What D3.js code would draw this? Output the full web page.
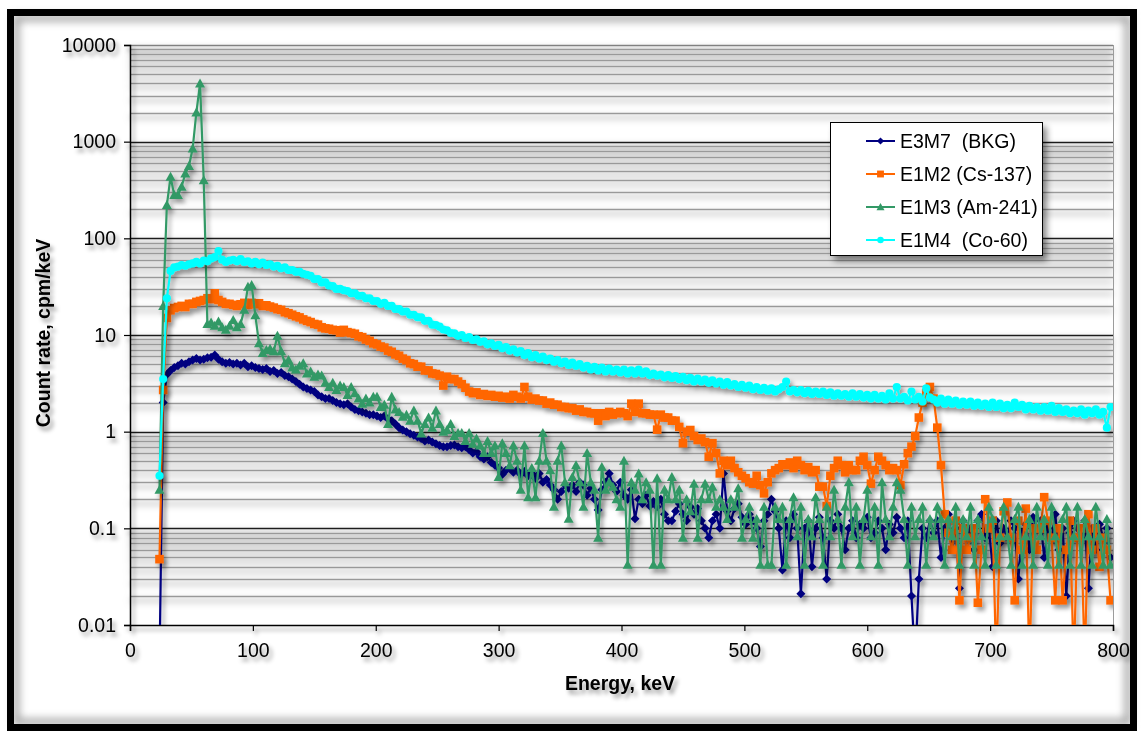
<!DOCTYPE html>
<html><head><meta charset="utf-8">
<script src="https://cdn.jsdelivr.net/npm/d3@7"></script>
<style>
html,body{margin:0;padding:0;background:#fff;}
svg{display:block;font-family:"Liberation Sans",Arial,sans-serif;}
.legend text{white-space:pre;}
</style></head><body>
<svg id="chart" width="1142" height="731"></svg>
<script>
// Channel grid: energies (keV) of the spectrum bins
const energyStart = 24, energyStep = 3, energyEnd = 798;
const energy = d3.range(energyStart, energyEnd + 1, energyStep);

// Count rates (cpm/keV) per bin; very small values stand for empty bins
const bkgE3M7 = [
  0.004, 2.0, 3.9, 4.3, 4.6, 4.8, 5.1, 5.0, 5.3, 5.5,
  5.7, 5.5, 5.6, 5.8, 5.9, 6.2, 5.6, 5.3, 5.1, 5.2,
  5.0, 5.1, 4.9, 5.1, 4.7, 4.8, 4.6, 4.5, 4.4, 4.5,
  4.2, 4.3, 4.0, 4.1, 3.8, 3.7, 3.5, 3.3, 3.1, 2.9,
  2.8, 2.7, 2.6, 2.4, 2.3, 2.2, 2.2, 2.1, 2.0, 1.95,
  1.9, 1.95, 1.8, 1.7, 1.65, 1.6, 1.55, 1.5, 1.5, 1.45,
  1.4, 1.45, 1.35, 1.3, 1.2, 1.1, 1.04, 1.0, 0.95, 0.92,
  0.88, 0.85, 0.8, 0.82, 0.78, 0.75, 0.72, 0.7, 0.7, 0.72,
  0.73, 0.7, 0.68, 0.7, 0.65, 0.6, 0.62, 0.55, 0.52, 0.55,
  0.48, 0.45, 0.42, 0.36, 0.4, 0.42, 0.38, 0.4, 0.36, 0.39,
  0.35, 0.37, 0.33, 0.37, 0.3, 0.32, 0.28, 0.25, 0.2, 0.24,
  0.28, 0.26, 0.28, 0.24, 0.3, 0.28, 0.22, 0.26, 0.2, 0.155,
  0.25, 0.3, 0.37, 0.28, 0.24, 0.3, 0.22, 0.2, 0.25, 0.126,
  0.2, 0.18, 0.22, 0.17, 0.19, 0.167, 0.2, 0.14, 0.12, 0.12,
  0.15, 0.18, 0.14, 0.12, 0.167, 0.14, 0.16, 0.12, 0.1, 0.08,
  0.12, 0.14, 0.1, 0.37, 0.15, 0.12, 0.16, 0.18, 0.13, 0.11,
  0.14, 0.12, 0.1, 0.065, 0.12, 0.14, 0.2, 0.15, 0.1, 0.037,
  0.12, 0.08, 0.14, 0.1, 0.021, 0.1, 0.12, 0.04, 0.1, 0.13,
  0.08, 0.03, 0.12, 0.1, 0.14, 0.1, 0.06, 0.1, 0.12, 0.08,
  0.11, 0.1, 0.13, 0.08, 0.09, 0.12, 0.1, 0.06, 0.11, 0.09,
  0.13, 0.1, 0.08, 0.12, 0.02, 0.004, 0.03, 0.1, 0.08, 0.12,
  0.09, 0.12, 0.05, 0.1, 0.14, 0.06, 0.1, 0.024, 0.12, 0.08,
  0.1, 0.06, 0.12, 0.14, 0.08, 0.1, 0.04, 0.12, 0.07, 0.1,
  0.08, 0.12, 0.1, 0.03, 0.09, 0.11, 0.06, 0.13, 0.1, 0.12,
  0.05, 0.1, 0.08, 0.14, 0.06, 0.1, 0.02, 0.09, 0.12, 0.1,
  0.08, 0.12, 0.024, 0.1, 0.06, 0.11, 0.08, 0.1, 0.05
];
const cs137E1M2 = [
  0.048, 2.7, 15, 18, 19, 19.5, 20, 19.5, 21, 21,
  22, 22.5, 23, 24, 23.5, 27, 23, 22, 21, 21,
  20.5, 20, 20.8, 21.5, 20.5, 21.5, 20.8, 21.3, 20, 20.3,
  19.7, 19.2, 18.5, 18.2, 17.2, 16.8, 16.2, 15.6, 15.2, 14.5,
  14, 13.6, 13, 12.8, 12, 11.7, 11.6, 11.3, 11.2, 10.6,
  11.3, 10.7, 10.5, 10.3, 9.7, 9.5, 9.0, 8.7, 8.2, 8.0,
  7.6, 7.4, 6.9, 6.7, 6.3, 6.1, 5.7, 5.5, 5.1, 5.0,
  4.7, 4.7, 4.3, 4.3, 4.0, 3.95, 3.8, 3.0, 3.7, 3.5,
  3.5, 3.3, 3.1, 2.85, 2.6, 2.5, 2.55, 2.4, 2.45, 2.35,
  2.4, 2.3, 2.35, 2.25, 2.3, 2.2, 2.4, 2.3, 2.2, 2.9,
  2.3, 2.15, 2.2, 2.1, 2.1, 1.95, 2.0, 1.9, 1.9, 1.8,
  1.8, 1.75, 1.75, 1.65, 1.7, 1.6, 1.6, 1.55, 1.55, 1.3,
  1.55, 1.45, 1.6, 1.5, 1.55, 1.6, 1.55, 1.45, 1.95, 1.6,
  1.95, 1.55, 1.55, 1.5, 1.5, 1.05, 1.5, 1.4, 1.4, 1.3,
  1.3, 1.12, 0.76, 1.0, 1.04, 0.9, 0.82, 0.85, 0.78, 0.55,
  0.76, 0.6, 0.37, 0.5, 0.45, 0.5, 0.42, 0.38, 0.35, 0.33,
  0.3, 0.29, 0.35, 0.28, 0.23, 0.3, 0.37, 0.4, 0.42, 0.46,
  0.45, 0.48, 0.42, 0.5, 0.45, 0.4, 0.43, 0.38, 0.4, 0.27,
  0.27, 0.17, 0.35, 0.42, 0.5, 0.45, 0.38, 0.45, 0.4, 0.4,
  0.5, 0.55, 0.45, 0.29, 0.4, 0.55, 0.5, 0.45, 0.4, 0.42,
  0.4, 0.28, 0.46, 0.6, 0.7, 0.9, 1.4, 2.0, 2.5, 2.9,
  2.2, 1.1, 0.45, 0.14, 0.09, 0.06, 0.12, 0.018, 0.1, 0.06,
  0.08, 0.1, 0.017, 0.06, 0.2, 0.1, 0.12, 0.004, 0.08, 0.15,
  0.185, 0.08, 0.018, 0.12, 0.06, 0.16, 0.004, 0.1, 0.06, 0.1,
  0.21, 0.12, 0.08, 0.018, 0.1, 0.018, 0.06, 0.12, 0.004, 0.08,
  0.1, 0.004, 0.14, 0.06, 0.1, 0.04, 0.08, 0.06, 0.018
];
const am241E1M3 = [
  0.25, 20, 221, 434, 280, 280, 342, 468, 560, 850,
  2000, 4000, 400, 13, 13.5, 12.5, 13.8, 12, 11.3, 12.5,
  14.3, 12, 13, 18.3, 31.5, 33, 16, 8.2, 6.5, 7.0,
  7.2, 6.8, 9.8, 6.8, 5.1, 5.5, 4.6, 4.4, 4.8, 5.1,
  4.0, 4.2, 3.7, 3.9, 3.8, 3.2, 2.9, 3.2, 2.7, 3.0,
  2.9, 2.4, 2.9, 2.5, 2.2, 1.95, 2.2, 2.0, 2.3, 2.3,
  1.8, 1.9, 1.2, 2.3, 1.7, 1.6, 1.43, 1.5, 1.3, 1.66,
  1.3, 0.96, 1.2, 1.4, 1.1, 1.66, 1.2, 1.0, 1.04, 1.2,
  0.9, 0.97, 0.97, 0.8, 0.97, 0.75, 0.85, 0.72, 0.6, 0.8,
  0.6, 0.72, 0.34, 0.76, 0.6, 0.45, 0.72, 0.5, 0.25, 0.72,
  0.21, 0.42, 0.21, 0.5, 0.97, 0.5, 0.4, 0.167, 0.5, 0.72,
  0.3, 0.126, 0.34, 0.45, 0.3, 0.167, 0.6, 0.3, 0.25, 0.08,
  0.43, 0.25, 0.3, 0.27, 0.2, 0.167, 0.5, 0.042, 0.3, 0.25,
  0.37, 0.2, 0.3, 0.25, 0.042, 0.33, 0.042, 0.25, 0.2, 0.34,
  0.2, 0.25, 0.08, 0.2, 0.15, 0.29, 0.08, 0.2, 0.29, 0.2,
  0.27, 0.167, 0.2, 0.167, 0.125, 0.2, 0.167, 0.26, 0.08, 0.125,
  0.167, 0.08, 0.125, 0.042, 0.167, 0.042, 0.042, 0.167, 0.125, 0.167,
  0.042, 0.125, 0.21, 0.083, 0.167, 0.042, 0.125, 0.083, 0.21, 0.125,
  0.042, 0.167, 0.083, 0.25, 0.125, 0.042, 0.167, 0.3, 0.083, 0.167,
  0.042, 0.125, 0.25, 0.083, 0.167, 0.042, 0.3, 0.125, 0.083, 0.167,
  0.3, 0.25, 0.125, 0.042, 0.167, 0.083, 0.125, 0.167, 0.042, 0.125,
  0.083, 0.167, 0.125, 0.042, 0.125, 0.083, 0.167, 0.042, 0.125, 0.083,
  0.167, 0.042, 0.125, 0.083, 0.042, 0.167, 0.125, 0.042, 0.083, 0.167,
  0.083, 0.042, 0.125, 0.167, 0.042, 0.083, 0.125, 0.042, 0.167, 0.083,
  0.125, 0.042, 0.167, 0.083, 0.042, 0.125, 0.167, 0.042, 0.083, 0.167,
  0.042, 0.125, 0.083, 0.042, 0.167, 0.083, 0.042, 0.125, 0.042
];
const co60E1M4 = [
  0.35, 3.5, 24, 46, 50, 51, 53, 52, 54, 55,
  57, 55, 59, 58, 62, 64, 74, 60, 57, 59,
  60, 58, 61, 57, 58, 55, 57, 54, 56, 53,
  54, 51, 52, 49, 50, 47, 47, 45, 45, 43,
  42, 41, 38, 38, 35, 35, 32.5, 32, 30, 30,
  29, 28.5, 27, 27, 25.5, 25.5, 24, 24, 22.5, 22.5,
  21, 21.5, 20, 20, 18.6, 18.5, 17.5, 17.5, 16.2, 16.2,
  15.3, 15.2, 14, 14, 12.8, 12.7, 12.2, 11.4, 11.2, 10.5,
  10.4, 9.8, 10, 9.3, 9.5, 8.9, 9.0, 8.5, 8.6, 8.0,
  8.2, 7.7, 7.9, 7.3, 7.5, 6.9, 7.1, 6.6, 6.8, 6.2,
  6.5, 5.9, 6.2, 5.7, 6.0, 5.5, 5.7, 5.3, 5.5, 5.1,
  5.3, 4.9, 5.2, 4.8, 5.0, 4.6, 4.8, 4.4, 4.7, 4.3,
  4.6, 4.2, 4.5, 4.2, 4.4, 4.1, 4.4, 4.0, 4.3, 4.0,
  4.4, 4.0, 4.2, 3.85, 4.0, 3.8, 3.9, 3.65, 3.85, 3.6,
  3.75, 3.5, 3.7, 3.4, 3.6, 3.3, 3.55, 3.3, 3.45, 3.2,
  3.4, 3.15, 3.3, 3.05, 3.25, 3.0, 3.1, 2.9, 3.05, 2.85,
  3.0, 2.75, 2.9, 2.7, 2.85, 2.65, 2.8, 2.6, 2.75, 2.9,
  3.3, 2.6, 2.7, 2.55, 2.7, 2.5, 2.65, 2.45, 2.6, 2.45,
  2.6, 2.4, 2.55, 2.35, 2.5, 2.35, 2.45, 2.3, 2.5, 2.3,
  2.45, 2.25, 2.4, 2.2, 2.4, 2.2, 2.35, 2.15, 2.5, 2.2,
  2.9, 2.2, 2.3, 2.1, 2.6, 2.15, 2.3, 2.05, 2.8, 2.25,
  2.15, 2.0, 2.2, 1.95, 2.15, 1.95, 2.1, 1.9, 2.05, 1.9,
  2.05, 1.85, 2.0, 1.85, 1.95, 1.8, 2.0, 1.8, 1.95, 1.75,
  1.9, 1.75, 2.0, 1.8, 1.9, 1.7, 1.85, 1.7, 1.8, 1.65,
  1.8, 1.65, 1.85, 1.6, 1.75, 1.6, 1.7, 1.55, 1.65, 1.55,
  1.7, 1.5, 1.65, 1.55, 1.7, 1.5, 1.6, 1.1, 1.8
];

const seriesNames = ["E3M7  (BKG)", "E1M2 (Cs-137)", "E1M3 (Am-241)", "E1M4  (Co-60)"];
const seriesValues = [bkgE3M7, cs137E1M2, am241E1M3, co60E1M4];
const seriesColors = ["#000080", "#FF6600", "#339966", "#00FFFF"];
const seriesMarkers = ["diamond", "square", "triangle", "circle"];

const yTickValues = [0.01, 0.1, 1, 10, 100, 1000, 10000];
const yTickLabels = ["0.01", "0.1", "1", "10", "100", "1000", "10000"];
const xTickValues = [0, 100, 200, 300, 400, 500, 600, 700, 800];

const xTitle = "Energy, keV";
const yTitle = "Count rate, cpm/keV";

// ---- layout ----
const W = 1142, H = 731;
const plot = {left: 130, right: 1113, top: 45, bottom: 625};
const fontSize = 19.5;

const svg = d3.select("#chart");
const defs = svg.append("defs");

function shadow(id, dx, dy, sd, op) {
  const f = defs.append("filter").attr("id", id)
    .attr("x", "-20%").attr("y", "-20%").attr("width", "140%").attr("height", "140%");
  f.append("feDropShadow").attr("dx", dx).attr("dy", dy)
    .attr("stdDeviation", sd).attr("flood-color", "#000").attr("flood-opacity", op);
}
shadow("gridShadow", 0, 4, 3.5, 0.55);
shadow("lineShadow", 3, 4, 2, 0.35);
shadow("textShadow", 3, 4, 2, 0.4);
shadow("boxShadow", 4, 5, 3, 0.45);

defs.append("clipPath").attr("id", "plotClip").append("rect")
  .attr("x", plot.left).attr("y", plot.top - 10)
  .attr("width", plot.right - plot.left).attr("height", plot.bottom - plot.top + 10);

// page background and frame
svg.append("rect").attr("width", W).attr("height", H).attr("fill", "#fff");
const inner = {x: 14, y: 16, w: 1116, h: 708};
const frameBlur = defs.append("filter").attr("id", "frameBlur");
frameBlur.append("feGaussianBlur").attr("stdDeviation", 4);
svg.append("rect").attr("x", inner.x + 2).attr("y", inner.y + 2)
  .attr("width", inner.w - 4).attr("height", inner.h - 4)
  .attr("fill", "none").attr("stroke", "#9a9a9a").attr("stroke-width", 6)
  .attr("filter", "url(#frameBlur)");
svg.append("rect").attr("x", inner.x - 3.5).attr("y", inner.y - 3.5)
  .attr("width", inner.w + 7).attr("height", inner.h + 7)
  .attr("fill", "none").attr("stroke", "#000").attr("stroke-width", 7);

// scales
const x = d3.scaleLinear().domain([0, 800]).range([plot.left, plot.right]);
const y = d3.scaleLog().domain([0.01, 10000]).range([plot.bottom, plot.top]);

// gridlines
const minorVals = [];
const majorVals = [];
for (let k = -2; k < 4; k++) {
  const d = Math.pow(10, k);
  for (let m = 2; m <= 9; m++) minorVals.push(m * d);
  majorVals.push(d * 10);
}
const grid = svg.append("g").attr("filter", "url(#gridShadow)");
grid.selectAll("line.minor").data(minorVals).join("line").attr("class", "minor")
  .attr("x1", plot.left).attr("x2", plot.right)
  .attr("y1", d => Math.round(y(d)) + 0.5).attr("y2", d => Math.round(y(d)) + 0.5)
  .attr("stroke", "#999").attr("stroke-width", 1.3);
grid.selectAll("line.major").data(majorVals).join("line").attr("class", "major")
  .attr("x1", plot.left).attr("x2", plot.right)
  .attr("y1", d => Math.round(y(d)) + 0.5).attr("y2", d => Math.round(y(d)) + 0.5)
  .attr("stroke", d => d === 10000 ? "#808080" : "#1a1a1a").attr("stroke-width", 1.3);
// right edge of plot area
svg.append("line").attr("x1", plot.right + 0.5).attr("x2", plot.right + 0.5)
  .attr("y1", plot.top).attr("y2", plot.bottom).attr("stroke", "#9c9c9c");

// axes
const axisG = svg.append("g").attr("filter", "url(#textShadow)");
const yAxis = axisG.append("g").attr("transform", `translate(${plot.left},0)`)
  .call(d3.axisLeft(y).tickValues(yTickValues).tickFormat((d, i) => yTickLabels[i])
    .tickSize(6).tickPadding(8));
const xAxis = axisG.append("g").attr("transform", `translate(0,${plot.bottom})`)
  .call(d3.axisBottom(x).tickValues(xTickValues).tickFormat(d3.format("d"))
    .tickSize(6).tickPadding(12));
[yAxis, xAxis].forEach(a => {
  a.select(".domain").attr("stroke", "#000").attr("stroke-width", 1.5);
  a.selectAll(".tick line").attr("stroke", "#000").attr("stroke-width", 1.2);
  a.selectAll(".tick text").attr("fill", "#000").attr("font-size", fontSize)
    .attr("font-family", "'Liberation Sans', Arial, sans-serif");
});

axisG.append("text").attr("x", 620).attr("y", 690).attr("text-anchor", "middle")
  .attr("font-size", fontSize).attr("font-weight", "bold").text(xTitle);
axisG.append("text").attr("transform", `translate(50,${333}) rotate(-90)`)
  .attr("text-anchor", "middle").attr("font-size", fontSize).attr("font-weight", "bold").text(yTitle);

// marker shapes
function markerPath(kind) {
  switch (kind) {
    case "diamond": return "M0,-4.5L4.5,0L0,4.5L-4.5,0Z";
    case "square": return "M-4.3,-4.3H4.3V4.3H-4.3Z";
    case "triangle": return "M0,-5L5,4H-5Z";
    default: return d3.symbol(d3.symbolCircle, 52)();
  }
}

// series
const line = d3.line().x(d => x(d.e)).y(d => y(d.v));
const dataG = svg.append("g").attr("clip-path", "url(#plotClip)");
seriesValues.forEach((vals, si) => {
  const pts = vals.map((v, i) => ({e: energy[i], v: v}));
  const g = dataG.append("g").attr("filter", "url(#lineShadow)");
  g.append("path").datum(pts).attr("d", line)
    .attr("fill", "none").attr("stroke", seriesColors[si]).attr("stroke-width", 2.2)
    .attr("stroke-linejoin", "round");
  g.selectAll("path.mk").data(pts.filter(p => p.v >= 0.01)).join("path").attr("class", "mk")
    .attr("transform", p => `translate(${x(p.e)},${y(p.v)})`)
    .attr("d", markerPath(seriesMarkers[si])).attr("fill", seriesColors[si]);
});

// legend
const lg = svg.append("g").attr("class", "legend");
lg.append("rect").attr("x", 830.5).attr("y", 122.5).attr("width", 212).attr("height", 133)
  .attr("fill", "#fff").attr("stroke", "#000").attr("stroke-width", 1)
  .attr("filter", "url(#boxShadow)");
const rowY = d3.scalePoint().domain(d3.range(seriesNames.length)).range([141, 240]);
seriesNames.forEach((name, si) => {
  const ry = rowY(si);
  lg.append("line").attr("x1", 866).attr("x2", 895).attr("y1", ry).attr("y2", ry)
    .attr("stroke", seriesColors[si]).attr("stroke-width", 2);
  lg.append("path").attr("transform", `translate(880.5,${ry}) scale(0.8)`)
    .attr("d", markerPath(seriesMarkers[si])).attr("fill", seriesColors[si]);
  lg.append("text").attr("x", 900).attr("y", ry + 7).attr("font-size", fontSize)
    .attr("fill", "#000").text(name);
});
</script>
</body></html>
